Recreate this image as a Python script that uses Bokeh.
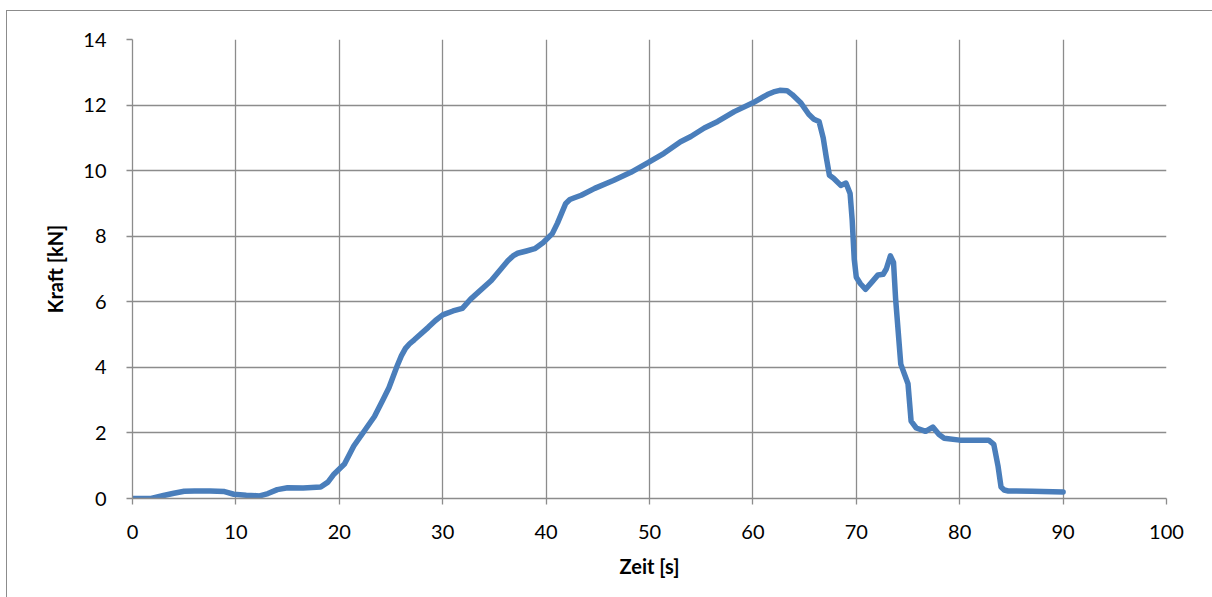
from bokeh.plotting import figure
from bokeh.models import ColumnDataSource, FixedTicker, Range1d
from bokeh.embed import file_html
from bokeh.resources import INLINE

# Zeit [s] and Kraft [kN] of the measured force curve
zeit = [0, 1.8, 3, 4, 5, 6, 7.5, 8.9, 9.8, 11, 12.3, 13.1, 14, 15, 16.5, 18.2,
        18.9, 19.5, 20.5, 21.4, 22.4, 23.4, 24.2, 24.8, 25.6, 26.0, 26.4, 26.8,
        27.25, 28.6, 29.3, 30, 31.0, 31.9, 32.7, 34.7, 36.3, 36.8, 37.25, 38.1,
        38.9, 39.7, 40.6, 41.1, 41.9, 42.3, 42.8, 43.4, 44.7, 46.5, 48.2, 49.9,
        51.4, 53.0, 54.0, 55.3, 56.6, 58.2, 60.0, 61.4, 62.0, 62.6, 63.3, 63.8,
        64.6, 65.4, 65.9, 66.4, 66.8, 67.1, 67.4, 67.8, 68.5, 69.0, 69.4, 69.6,
        69.8, 70.0, 70.4, 70.9, 71.5, 72.1, 72.6, 72.9, 73.3, 73.6, 73.8, 74.3,
        75.0, 75.3, 75.8, 76.7, 77.4, 78.0, 78.5, 80, 82.8, 83.3, 83.7, 84.0,
        84.3, 84.7, 87, 90]
kraft = [0, 0.0, 0.09, 0.16, 0.22, 0.23, 0.23, 0.21, 0.13, 0.1, 0.08, 0.15, 0.27,
         0.33, 0.32, 0.35, 0.5, 0.75, 1.05, 1.6, 2.05, 2.5, 3.0, 3.38, 4.05, 4.35,
         4.58, 4.72, 4.84, 5.22, 5.43, 5.6, 5.72, 5.8, 6.08, 6.65, 7.25, 7.4, 7.48,
         7.55, 7.62, 7.8, 8.08, 8.4, 9.0, 9.12, 9.18, 9.25, 9.46, 9.7, 9.95, 10.25,
         10.53, 10.88, 11.04, 11.3, 11.5, 11.8, 12.07, 12.32, 12.4, 12.45, 12.44,
         12.32, 12.08, 11.72, 11.57, 11.5, 11.0, 10.4, 9.86, 9.77, 9.55, 9.62, 9.3,
         8.5, 7.3, 6.75, 6.55, 6.38, 6.6, 6.82, 6.84, 7.0, 7.4, 7.2, 6.1, 4.1, 3.5,
         2.36, 2.15, 2.05, 2.18, 1.95, 1.84, 1.78, 1.78, 1.65, 1.0, 0.35, 0.26,
         0.23, 0.22, 0.2]

x_ticks = [0, 10, 20, 30, 40, 50, 60, 70, 80, 90, 100]
y_ticks = [0, 2, 4, 6, 8, 10, 12, 14]

GRID = "#8c8c8c"
FONT = "Lato"

source = ColumnDataSource(data=dict(zeit=zeit, kraft=kraft))

p = figure(
    width=1206, height=587,
    output_backend="svg", toolbar_location=None,
    x_range=Range1d(0, 100), y_range=Range1d(0, 14),
    min_border_left=125, min_border_right=47,
    min_border_top=28, min_border_bottom=100,
    margin=(10, 0, 0, 6),
)
p.styles = {"border-left": "1.5px solid #8c8c8c", "border-top": "1.5px solid #8c8c8c"}

p.line("zeit", "kraft", source=source, line_color="#4a7ebb", line_width=5.5,
       line_join="round", line_cap="round")

p.outline_line_color = None
p.background_fill_color = "white"
p.border_fill_color = "white"

for ax, ticks in ((p.xaxis, x_ticks), (p.yaxis, y_ticks)):
    ax.ticker = FixedTicker(ticks=ticks)
    ax.minor_tick_line_color = None
    ax.axis_line_color = GRID
    ax.axis_line_width = 1.3
    ax.major_tick_line_color = GRID
    ax.major_tick_line_width = 1.3
    ax.major_tick_out = 6
    ax.major_tick_in = 0
    ax.major_label_text_font = FONT
    ax.major_label_text_font_size = "20px"
    ax.major_label_text_color = "black"
    ax.axis_label_text_font = FONT
    ax.axis_label_text_font_size = "20px"
    ax.axis_label_text_font_style = "bold"
    ax.axis_label_text_color = "black"

p.xaxis.axis_label = "Zeit [s]"
p.yaxis.axis_label = "Kraft [kN]"
p.xaxis.major_label_standoff = 20
p.yaxis.major_label_standoff = 20
p.xaxis.axis_label_standoff = 12
p.yaxis.axis_label_standoff = 13

p.grid.grid_line_color = GRID
p.grid.grid_line_width = 1.3
p.xgrid.ticker = FixedTicker(ticks=x_ticks)
p.ygrid.ticker = FixedTicker(ticks=y_ticks)

open("out.html", "w").write(file_html(p, INLINE))
